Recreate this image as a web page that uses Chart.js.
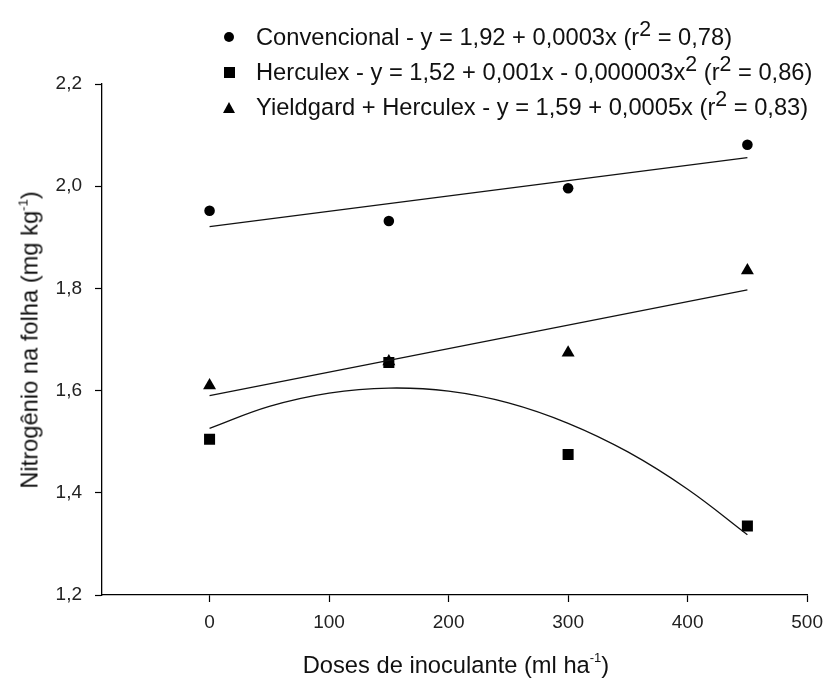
<!DOCTYPE html>
<html>
<head>
<meta charset="utf-8">
<script src="https://cdn.jsdelivr.net/npm/chart.js@4.4.1/dist/chart.umd.min.js"></script>
<style>
html,body{margin:0;padding:0;background:#fff;}
#wrap{position:relative;width:832px;height:687px;font-family:"Liberation Sans",Arial,sans-serif;color:#111;overflow:hidden;}
#c{position:absolute;left:0;top:0;}
.row{position:absolute;left:218px;height:34px;display:flex;align-items:center;white-space:nowrap;font-size:23.7px;line-height:34px;}
.mk{width:22px;height:22px;display:inline-flex;justify-content:center;align-items:center;margin-right:16px;}
.circ{width:10px;height:10px;border-radius:50%;background:#000;}
.sq{width:11px;height:11px;background:#000;}
.tri{width:0;height:0;border-left:6.5px solid transparent;border-right:6.5px solid transparent;border-bottom:11px solid #000;}
sup{font-size:0.9em;line-height:0;vertical-align:0.42em;}
sup.small{font-size:0.55em;vertical-align:0.8em;}
.title{position:absolute;white-space:nowrap;font-size:23.7px;transform:translate(-50%,-50%);}
#ytitle{left:30px;top:340px;transform:translate(-50%,-50%) rotate(-90deg);}
#xtitle{left:456px;top:665px;}
</style>
</head>
<body>
<div id="wrap">
  <canvas id="c" width="832" height="687"></canvas>
  <div id="legend"></div>
  <div class="title" id="ytitle">Nitrogênio na folha (mg kg<sup class="small">-1</sup>)</div>
  <div class="title" id="xtitle">Doses de inoculante (ml ha<sup class="small">-1</sup>)</div>
</div>
<script>
// ---- data ----
const doses = [0, 150, 300, 450];
const convencional = [1.952, 1.932, 1.996, 2.081];
const herculex = [1.505, 1.655, 1.475, 1.335];
const yieldgardHerculex = [1.610, 1.657, 1.674, 1.835];

// fitted lines as drawn in the picture
const linearTrendX = [0, 450];
const convencionalTrend = [1.921, 2.056];
const yieldgardTrend = [1.590, 1.797];
const herculexTrendX = [0, 50, 100, 150, 200, 250, 300, 350, 400, 450];
const herculexTrend = [1.526, 1.569, 1.595, 1.605, 1.599, 1.576, 1.536, 1.480, 1.407, 1.318];

const xTicks = [0, 100, 200, 300, 400, 500];
const yTicks = [1.2, 1.4, 1.6, 1.8, 2.0, 2.2];

const seriesNames = ['Convencional', 'Herculex', 'Yieldgard + Herculex'];
const seriesEquations = [
  'y = 1,92 + 0,0003x (r<sup>2</sup> = 0,78)',
  'y = 1,52 + 0,001x - 0,000003x<sup>2</sup> (r<sup>2</sup> = 0,86)',
  'y = 1,59 + 0,0005x (r<sup>2</sup> = 0,83)'
];
const seriesMarkers = ['circ', 'sq', 'tri'];

// ---- legend (HTML text) ----
const legendTops = [20, 55, 90];
const legendEl = document.getElementById('legend');
seriesNames.forEach((n, i) => {
  const r = document.createElement('div');
  r.className = 'row';
  r.style.top = legendTops[i] + 'px';
  r.innerHTML = '<span class="mk"><span class="' + seriesMarkers[i] + '"></span></span><span>' + n + ' - ' + seriesEquations[i] + '</span>';
  legendEl.appendChild(r);
});

const pts = (xs, ys) => xs.map((x, i) => ({x: x, y: ys[i]}));
const FONT = '"Liberation Sans", Arial, sans-serif';

const lineDs = (xs, ys, tension) => ({
  data: pts(xs, ys), showLine: true, pointRadius: 0, borderColor: '#111',
  borderWidth: 1.3, fill: false, tension: tension, cubicInterpolationMode: 'default'
});

new Chart(document.getElementById('c'), {
  type: 'scatter',
  data: {
    datasets: [
      lineDs(linearTrendX, convencionalTrend, 0),
      lineDs(linearTrendX, yieldgardTrend, 0),
      lineDs(herculexTrendX, herculexTrend, 0.4),
      {label: seriesNames[2], data: pts(doses, yieldgardHerculex), pointStyle: 'triangle', pointRadius: 7.5,
       backgroundColor: '#000', borderColor: '#000', borderWidth: 0},
      {label: seriesNames[1], data: pts(doses, herculex), pointStyle: 'rect', pointRadius: 7.8,
       backgroundColor: '#000', borderColor: '#000', borderWidth: 0},
      {label: seriesNames[0], data: pts(doses, convencional), pointStyle: 'circle', pointRadius: 5.3,
       backgroundColor: '#000', borderColor: '#000', borderWidth: 0}
    ]
  },
  options: {
    responsive: false,
    animation: false,
    events: [],
    layout: {padding: {left: 0, right: 21, top: 84, bottom: 0}},
    plugins: {legend: {display: false}, tooltip: {enabled: false}},
    scales: {
      x: {
        type: 'linear', min: -90, max: 500,
        afterFit: s => { s.height = 92; },
        afterBuildTicks: s => { s.ticks = xTicks.map(v => ({value: v})); },
        grid: {display: true, drawOnChartArea: false, drawTicks: true, tickLength: 7, tickColor: '#000', tickWidth: 1.2},
        border: {display: true, color: '#000', width: 1.3},
        ticks: {padding: 9, color: '#222', autoSkip: false, maxRotation: 0,
                font: {family: FONT, size: 19}, callback: v => String(v)}
      },
      y: {
        type: 'linear', min: 1.2, max: 2.2,
        afterFit: s => { s.width = 102; },
        afterBuildTicks: s => { s.ticks = yTicks.map(v => ({value: v})); },
        grid: {display: true, drawOnChartArea: false, drawTicks: true, tickLength: 7, tickColor: '#000', tickWidth: 1.2},
        border: {display: true, color: '#000', width: 1.3},
        ticks: {padding: 13, color: '#222', autoSkip: false,
                font: {family: FONT, size: 19}, callback: v => Number(v).toFixed(1).replace('.', ',')}
      }
    }
  }
});
</script>
</body>
</html>
